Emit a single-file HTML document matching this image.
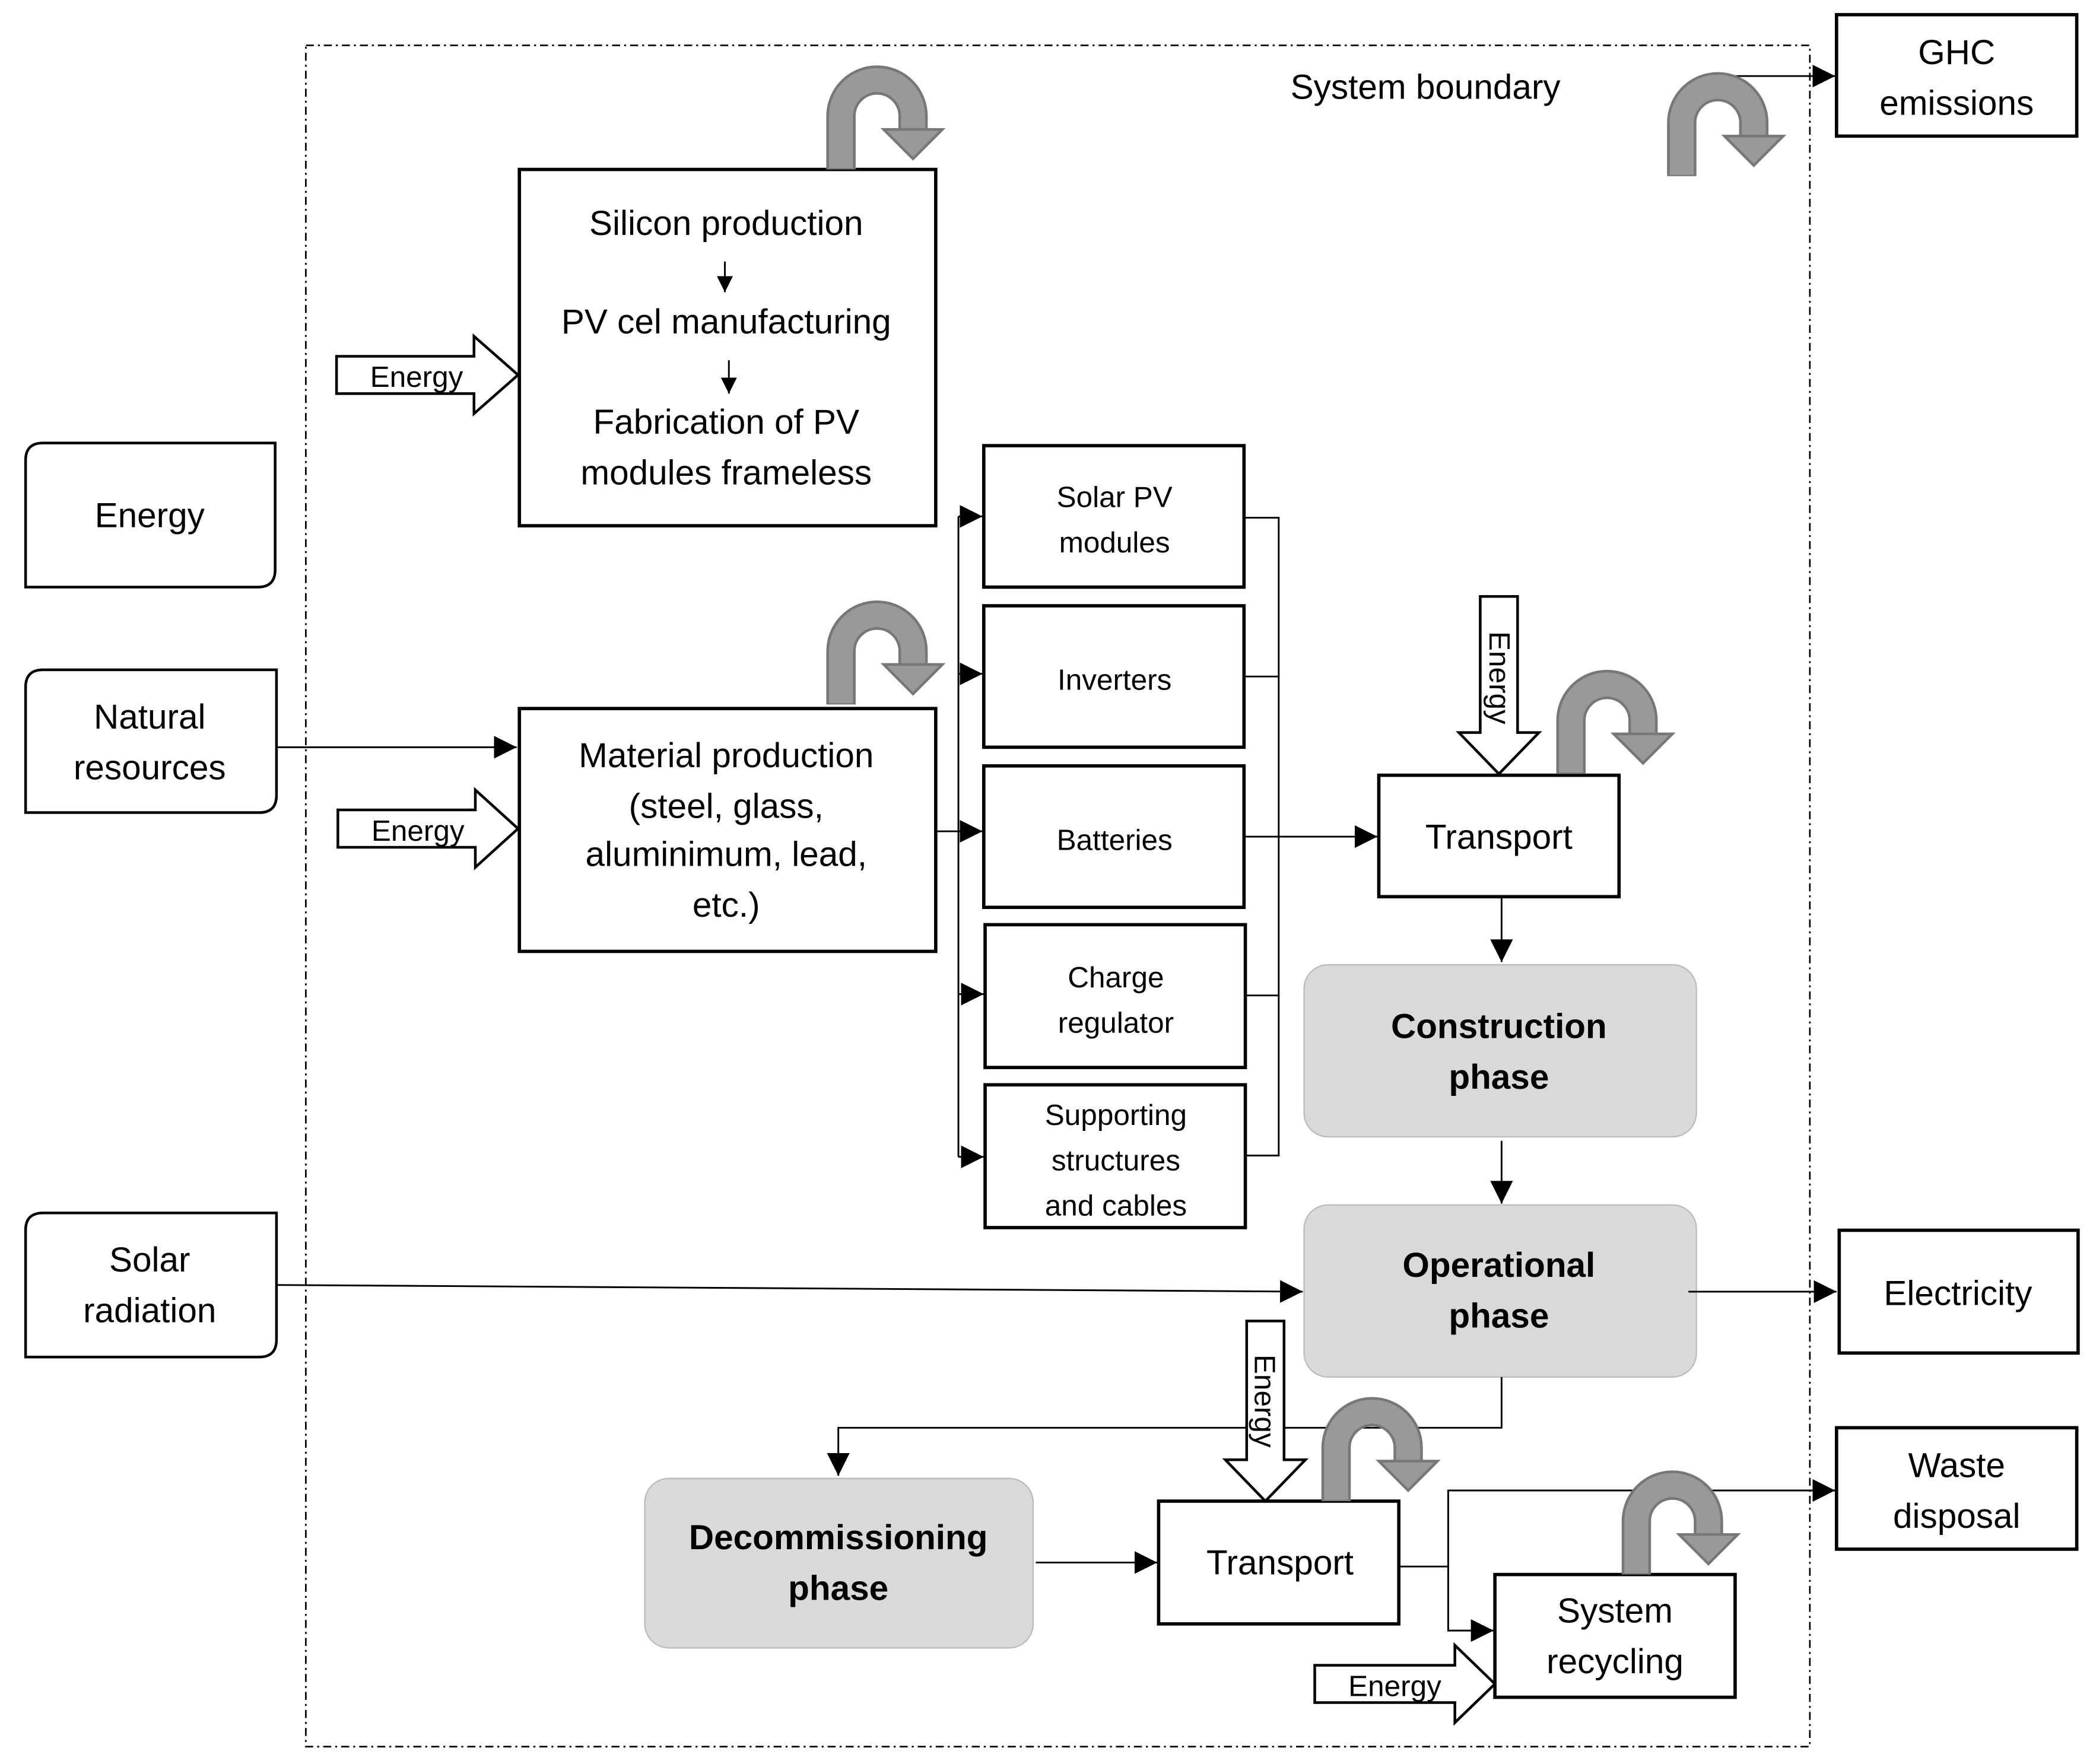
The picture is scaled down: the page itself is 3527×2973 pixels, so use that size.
<!DOCTYPE html>
<html><head><meta charset="utf-8"><style>html,body{margin:0;padding:0;background:#fff}svg{display:block}</style></head>
<body>
<svg width="3527" height="2973" viewBox="0 0 1568 1322" xmlns="http://www.w3.org/2000/svg" font-family="Liberation Sans, sans-serif">
<defs>
<marker id="a" viewBox="0 0 10 10" refX="10" refY="5" markerWidth="12" markerHeight="12" markerUnits="userSpaceOnUse" orient="auto"><path d="M0,0L10,5L0,10z" fill="#000"/></marker>
<marker id="b" viewBox="0 0 10 10" refX="10" refY="5" markerWidth="17" markerHeight="17" markerUnits="userSpaceOnUse" orient="auto"><path d="M0,0L10,5L0,10z" fill="#000"/></marker>
<g id="cu">
<path d="M0,0 V-40 A27,27 0 0 1 54,-40 V-28" fill="none" stroke="#777" stroke-width="22"/>
<path d="M0,-1 V-40 A27,27 0 0 1 54,-40 V-28" fill="none" stroke="#999" stroke-width="18"/>
<path d="M32,-30 H76 L54,-8 Z" fill="#999" stroke="#777" stroke-width="2"/>
</g>
</defs>
<g fill="none" stroke="#000">
<rect x="229" y="34" width="1127" height="1275" stroke-width="1.2" stroke-dasharray="6,3,1.5,3"/>
<path d="M19,440 V345 Q19,332 32,332 H206 V427 Q206,440 193,440 Z" stroke-width="2"/>
<path d="M19,609 V515 Q19,502 32,502 H207 V596 Q207,609 194,609 Z" stroke-width="2"/>
<path d="M19,1017 V922 Q19,909 32,909 H207 V1004 Q207,1017 194,1017 Z" stroke-width="2"/>
<rect x="1376" y="11" width="180" height="91" stroke-width="2.5"/>
<rect x="1378" y="922" width="179" height="92" stroke-width="2.5"/>
<rect x="1376" y="1070" width="180" height="91" stroke-width="2.5"/>
<rect x="389" y="127" width="312" height="267" stroke-width="2.5"/>
<rect x="389" y="531" width="312" height="182" stroke-width="2.5"/>
<rect x="737" y="334" width="195" height="106" stroke-width="2.5"/>
<rect x="737" y="454" width="195" height="106" stroke-width="2.5"/>
<rect x="737" y="574" width="195" height="106" stroke-width="2.5"/>
<rect x="738" y="693" width="195" height="107" stroke-width="2.5"/>
<rect x="738" y="813" width="195" height="107" stroke-width="2.5"/>
<rect x="1033" y="581" width="180" height="91" stroke-width="2.5"/>
<rect x="868" y="1125" width="180" height="92" stroke-width="2.5"/>
<rect x="1120" y="1180" width="180" height="92" stroke-width="2.5"/>
</g>
<rect x="977" y="723" width="294" height="129" rx="18" fill="#d9d9d9" stroke="#bbb"/>
<rect x="977" y="903" width="294" height="129" rx="18" fill="#d9d9d9" stroke="#bbb"/>
<rect x="483" y="1108" width="291" height="127" rx="18" fill="#d9d9d9" stroke="#bbb"/>
<g fill="none" stroke="#000" stroke-width="1.3">
<path d="M543,196 V219" marker-end="url(#a)"/>
<path d="M546,270 V295" marker-end="url(#a)"/>
<path d="M207,560 H387" marker-end="url(#b)"/>
<path d="M701,623 H718"/>
<path d="M718,387 V867"/>
<path d="M718,387 H736" marker-end="url(#b)"/>
<path d="M718,505 H736" marker-end="url(#b)"/>
<path d="M718,623 H736" marker-end="url(#b)"/>
<path d="M718,745 H737" marker-end="url(#b)"/>
<path d="M718,867 H737" marker-end="url(#b)"/>
<path d="M932,388 H958 V866 H933"/>
<path d="M932,507 H958 M932,627 H1032" marker-end="url(#b)"/>
<path d="M933,746 H958"/>
<path d="M1125,673 V721" marker-end="url(#b)"/>
<path d="M1125,855 V902" marker-end="url(#b)"/>
<path d="M207,963 L976,968" marker-end="url(#b)"/>
<path d="M1265,968 H1376" marker-end="url(#b)"/>
<path d="M1125,1032 V1070 H628 V1106" marker-end="url(#b)"/>
<path d="M776,1171 H867" marker-end="url(#b)"/>
<path d="M1048,1174 H1085 V1117 H1375" marker-end="url(#b)"/>
<path d="M1085,1174 V1222 H1119" marker-end="url(#b)"/>
<path d="M1290,57 H1375" marker-end="url(#b)"/>
</g>
<g fill="#fff" stroke="#000" stroke-width="2">
<path d="M252,267 H355 V252 L388,281 L355,310 V295 H252 Z"/>
<path d="M253,607 H356 V592 L388,621 L356,650 V635 H253 Z"/>
<path d="M985,1248 H1090 V1233 L1120,1262 L1090,1291 V1276 H985 Z"/>
<path d="M1109,447 H1137 V549 H1153 L1123,580 L1093,549 H1109 Z"/>
<path d="M934,990 H962 V1094 H978 L948,1125 L918,1094 H934 Z"/>
</g>
<use href="#cu" x="630" y="127"/>
<use href="#cu" x="630" y="528"/>
<use href="#cu" x="1177" y="580"/>
<use href="#cu" x="1260" y="132"/>
<use href="#cu" x="1001" y="1125"/>
<use href="#cu" x="1226" y="1180"/>
<g font-size="26" text-anchor="middle" fill="#000">
<text x="1068" y="74">System boundary</text>
<text x="1466" y="48">GHC</text><text x="1466" y="86">emissions</text>
<text x="112" y="395">Energy</text>
<text x="112" y="546">Natural</text><text x="112" y="584">resources</text>
<text x="112" y="953">Solar</text><text x="112" y="991">radiation</text>
<text x="544" y="176">Silicon production</text>
<text x="544" y="250">PV cel manufacturing</text>
<text x="544" y="325">Fabrication of PV</text>
<text x="544" y="363">modules frameless</text>
<text x="544" y="575">Material production</text>
<text x="544" y="613">(steel, glass,</text>
<text x="544" y="649">aluminimum, lead,</text>
<text x="544" y="687">etc.)</text>
<text x="1123" y="636">Transport</text>
<text x="959" y="1180">Transport</text>
<text x="1210" y="1216">System</text><text x="1210" y="1254">recycling</text>
<text x="1467" y="978">Electricity</text>
<text x="1466" y="1107">Waste</text><text x="1466" y="1145">disposal</text>
<g font-weight="bold">
<text x="1123" y="778">Construction</text><text x="1123" y="816">phase</text>
<text x="1123" y="957">Operational</text><text x="1123" y="995">phase</text>
<text x="628" y="1161">Decommissioning</text><text x="628" y="1199">phase</text>
</g>
</g>
<g font-size="22" text-anchor="middle" fill="#000">
<text x="835" y="380">Solar PV</text><text x="835" y="414">modules</text>
<text x="835" y="517">Inverters</text>
<text x="835" y="637">Batteries</text>
<text x="836" y="740">Charge</text><text x="836" y="774">regulator</text>
<text x="836" y="843">Supporting</text><text x="836" y="877">structures</text><text x="836" y="911">and cables</text>
<text x="312" y="290">Energy</text>
<text x="313" y="630">Energy</text>
<text x="1045" y="1271">Energy</text>
<text transform="translate(1116,508) rotate(90)">Energy</text>
<text transform="translate(940,1050) rotate(90)">Energy</text>
</g>
</svg>
</body></html>
